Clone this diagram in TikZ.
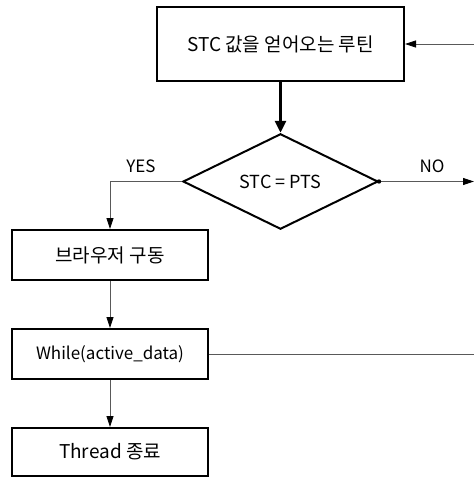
\documentclass[tikz,border=0pt]{standalone}
\usepackage{fontspec}
\setmainfont{Noto Sans CJK KR}
\usetikzlibrary{shapes.geometric,arrows.meta}
\begin{document}
\begin{tikzpicture}[x=1pt,y=1pt,
  box/.style={draw=black,line width=2pt,minimum width=196pt,minimum height=50pt,inner sep=0pt,font=\fontsize{19}{21}\selectfont},
  thin/.style={draw=black!65,line width=0.8pt},
  tip/.style={-{Triangle[length=11pt,width=7pt,color=black,fill=black]}},
  lbl/.style={font=\fontsize{17}{19}\selectfont,inner sep=0pt}]
\useasboundingbox (0,0) rectangle (474,-477);
\node[box,minimum width=247pt,minimum height=74pt] (top) at (280.5,-44) {STC 값을 얻어오는 루틴};
\node[draw=black,line width=2pt,diamond,minimum width=195pt,minimum height=93pt,inner sep=0pt,font=\fontsize{18}{20}\selectfont] (dia) at (280.5,-181.5) {STC = PTS};
\node[box] (browser) at (110,-255) {브라우저 구동};
\node[box,font=\fontsize{17}{19}\selectfont] (while) at (110,-354) {While(active\_data)};
\node[box,minimum height=48pt] (thread) at (110,-452) {Thread 종료};
\coordinate (inR) at (474,-44);
\coordinate (noR) at (474,-181.5);
\coordinate (whR) at (474,-354);
\node[lbl] (yes) at (141,-166) {YES};
\node[lbl] (no) at (432,-166) {NO};
\draw[thin,tip] (inR) -- (top.east);
\draw[line width=3.5pt,-{Triangle[length=12pt,width=11pt]}] (top.south) -- (dia.north);
\draw[thin,tip] (dia.west) -| (browser.north);
\draw[thin,tip] (dia.east) -- (noR);
\fill (dia.east) circle (2.2pt);
\draw[thin,tip] (browser.south) -- (while.north);
\draw[thin] (while.east) -- (whR);
\draw[thin,tip] (while.south) -- (thread.north);
\end{tikzpicture}
\end{document}
